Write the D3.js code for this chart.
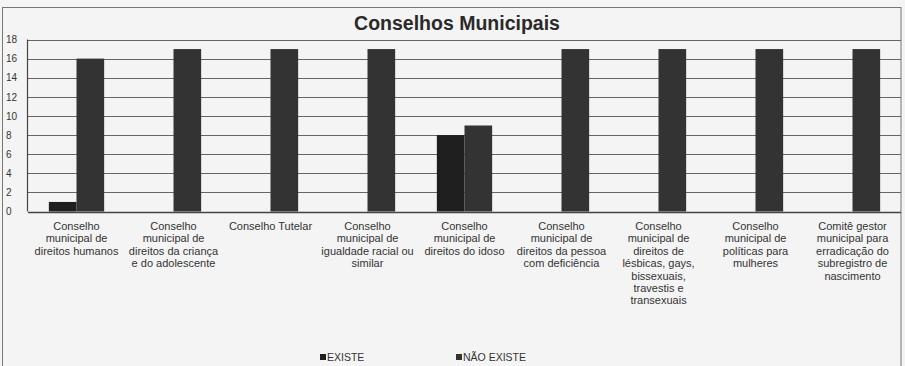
<!DOCTYPE html>
<html>
<head>
<meta charset="utf-8">
<script src="https://cdn.jsdelivr.net/npm/d3@7"></script>
<style>
  html, body { margin: 0; padding: 0; background: #f4f4f4; }
  svg { display: block; }
  text { font-family: "Liberation Sans", Arial, sans-serif; }
</style>
</head>
<body>
<svg id="chart" width="905" height="366"></svg>
<script>
// Conselhos municipais: quantidade de municípios onde cada conselho existe / não existe
const categories = [
  ["Conselho", "municipal de", "direitos humanos"],
  ["Conselho", "municipal de", "direitos da criança", "e do adolescente"],
  ["Conselho Tutelar"],
  ["Conselho", "municipal de", "igualdade racial ou", "similar"],
  ["Conselho", "municipal de", "direitos do idoso"],
  ["Conselho", "municipal de", "direitos da pessoa", "com deficiência"],
  ["Conselho", "municipal de", "direitos de", "lésbicas, gays,", "bissexuais,", "travestis e", "transexuais"],
  ["Conselho", "municipal de", "políticas para", "mulheres"],
  ["Comitê gestor", "municipal para", "erradicação do", "subregistro de", "nascimento"]
];
const existe    = [1, 0, 0, 0, 8, 0, 0, 0, 0];
const naoExiste = [16, 17, 17, 17, 9, 17, 17, 17, 17];
const seriesNames = ["EXISTE", "NÃO EXISTE"];
const seriesColors = ["#1f1f1f", "#333333"];
const yTicks = [0, 2, 4, 6, 8, 10, 12, 14, 16, 18];

const svg = d3.select("#chart");
const plot = { left: 28, right: 901, top: 39.5, bottom: 211.5 };

// outer frame
svg.append("rect").attr("x", 2.5).attr("y", 7.5).attr("width", 898.5).attr("height", 370)
  .attr("fill", "#f4f4f4").attr("stroke", "#777").attr("stroke-width", 1);

// title
svg.append("text").attr("x", 457).attr("y", 29.5).attr("text-anchor", "middle")
  .attr("font-size", 19.5).attr("font-weight", "bold").attr("fill", "#2a2a2a")
  .text("Conselhos Municipais");

const idx = d3.range(categories.length);
const x = d3.scaleBand().domain(idx).range([plot.left, plot.right])
  .paddingInner(0.43).paddingOuter(0.215);
const xs = d3.scaleBand().domain([0, 1]).range([0, x.bandwidth()]);
const y = d3.scaleLinear().domain([0, 18]).range([plot.bottom, plot.top]);

// gridlines
svg.append("g").selectAll("line").data(yTicks).join("line")
  .attr("x1", plot.left).attr("x2", plot.right)
  .attr("y1", d => Math.round(y(d)) + 0.5).attr("y2", d => Math.round(y(d)) + 0.5)
  .attr("stroke", d => d === 0 ? "#444" : "#666").attr("stroke-width", d => d === 0 ? 1.5 : 1);

// y axis
const yAxis = d3.axisLeft(y).tickValues(yTicks).tickSize(0).tickPadding(0);
const gy = svg.append("g").attr("transform", `translate(6,0)`).call(yAxis);
gy.select(".domain").remove();
gy.selectAll("text").attr("text-anchor", "start").attr("x", 0)
  .attr("font-size", 10).attr("fill", "#333").style("font-family", "'Liberation Sans', Arial, sans-serif");
svg.append("line").attr("x1", plot.left - 0.5).attr("x2", plot.left - 0.5)
  .attr("y1", plot.top).attr("y2", plot.bottom).attr("stroke", "#444").attr("stroke-width", 1.2);

// bars
const rows = idx.map(i => [existe[i], naoExiste[i]]);
const groups = svg.append("g").selectAll("g").data(rows).join("g")
  .attr("transform", (d, i) => `translate(${x(i)},0)`);
groups.selectAll("rect").data(d => d.map((v, s) => ({ v, s }))).join("rect")
  .attr("x", d => xs(d.s)).attr("width", xs.bandwidth())
  .attr("y", d => y(d.v)).attr("height", d => y(0) - y(d.v))
  .attr("fill", d => seriesColors[d.s]);

// category labels
const labels = svg.append("g").selectAll("text").data(categories).join("text")
  .attr("text-anchor", "middle").attr("font-size", 11).attr("fill", "#333")
  .attr("transform", (d, i) => `translate(${x(i) + x.bandwidth() / 2},230)`);
labels.selectAll("tspan").data(d => d).join("tspan")
  .attr("x", 0).attr("dy", (d, j) => j === 0 ? 0 : 12.4).text(d => d);

// legend
const legendX = [320, 456];
const lg = svg.append("g").selectAll("g").data(seriesNames).join("g")
  .attr("transform", (d, i) => `translate(${legendX[i]},361)`);
lg.append("rect").attr("x", 0).attr("y", -7).attr("width", 6).attr("height", 6)
  .attr("fill", (d, i) => seriesColors[i]);
lg.append("text").attr("x", 7).attr("y", 0).attr("font-size", 10.5).attr("fill", "#333")
  .text(d => d);
</script>
</body>
</html>
